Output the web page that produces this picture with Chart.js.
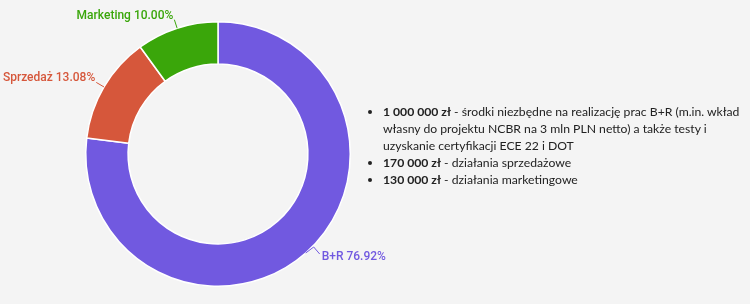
<!DOCTYPE html>
<html>
<head>
<meta charset="utf-8">
<script src="https://cdn.jsdelivr.net/npm/chart.js@4/dist/chart.umd.min.js"></script>
<style>
  html, body { margin: 0; padding: 0; background: #f4f4f4; }
  body { width: 750px; height: 304px; position: relative; overflow: hidden; }
  #chartBox { position: absolute; left: 0; top: 0; width: 436px; height: 304px; }
  #notes {
    position: absolute; left: 370px; top: 103px; width: 380px;
    margin: 0; padding: 0 0 0 13px; white-space: nowrap;
    font-family: Lato, 'Open Sans', sans-serif; font-size: 12.2px; line-height: 17px; color: #222;
  }
  #notes li { margin: 0; }
  #notes b { font-weight: bold; }
</style>
</head>
<body>
<div id="chartBox"><canvas id="budgetChart"></canvas></div>
<ul id="notes">
  <li><b>1 000 000 zł</b> - środki niezbędne na realizację prac B+R (m.in. wkład<br>własny do projektu NCBR na 3 mln PLN netto) a także testy i<br>uzyskanie certyfikacji ECE 22 i DOT</li>
  <li><b>170 000 zł</b> - działania sprzedażowe</li>
  <li><b>130 000 zł</b> - działania marketingowe</li>
</ul>
<script>
// budget split (zł)
const categories = ['B+R', 'Sprzedaż', 'Marketing'];
const amounts = [1000000, 170000, 130000];
const sliceColors = ['#7159e0', '#d6573b', '#3aa60a'];

// outside labels with short leader lines
const sliceLabels = {
    id: 'sliceLabels',
    afterDatasetsDraw: function(chart) {
        const ctx = chart.ctx;
        const meta = chart.getDatasetMeta(0);
        const total = amounts.reduce((a, b) => a + b, 0);
        ctx.save();
        ctx.font = '500 12px Roboto, sans-serif';
        ctx.textBaseline = 'middle';
        meta.data.forEach((arc, i) => {
            const mid = (arc.startAngle + arc.endAngle) / 2;
            const r = arc.outerRadius;
            const x0 = arc.x + Math.cos(mid) * r;
            const y0 = arc.y + Math.sin(mid) * r;
            const right = Math.cos(mid) >= 0;
            const text = categories[i] + ' ' + (amounts[i] / total * 100).toFixed(2) + '%';
            ctx.strokeStyle = sliceColors[i];
            ctx.fillStyle = sliceColors[i];
            ctx.lineWidth = 1;
            ctx.beginPath();
            ctx.moveTo(x0, y0);
            if (right) {
                ctx.lineTo(x0 + 8, y0 - 6);
                ctx.lineTo(x0 + 14, y0 + 1);
                ctx.stroke();
                ctx.textAlign = 'left';
                ctx.fillText(text, x0 + 16, y0 + 4);
            } else {
                const tx = x0 + Math.cos(mid) * 9;
                const ty = y0 + Math.sin(mid) * 9;
                ctx.lineTo(tx, ty);
                ctx.stroke();
                ctx.textAlign = 'right';
                ctx.fillText(text, tx - 1, ty - 4);
            }
        });
        ctx.restore();
    }
};

new Chart(document.getElementById('budgetChart'), {
    type: 'doughnut',
    data: {
        labels: categories,
        datasets: [{
            data: amounts,
            backgroundColor: sliceColors,
            borderColor: '#ffffff',
            borderWidth: 1.5
        }]
    },
    options: {
        responsive: true,
        maintainAspectRatio: false,
        animation: false,
        cutout: '68%',
        layout: { padding: { top: 21, bottom: 17 } },
        plugins: {
            legend: { display: false },
            tooltip: { enabled: false }
        }
    },
    plugins: [sliceLabels]
});
</script>
</body>
</html>
